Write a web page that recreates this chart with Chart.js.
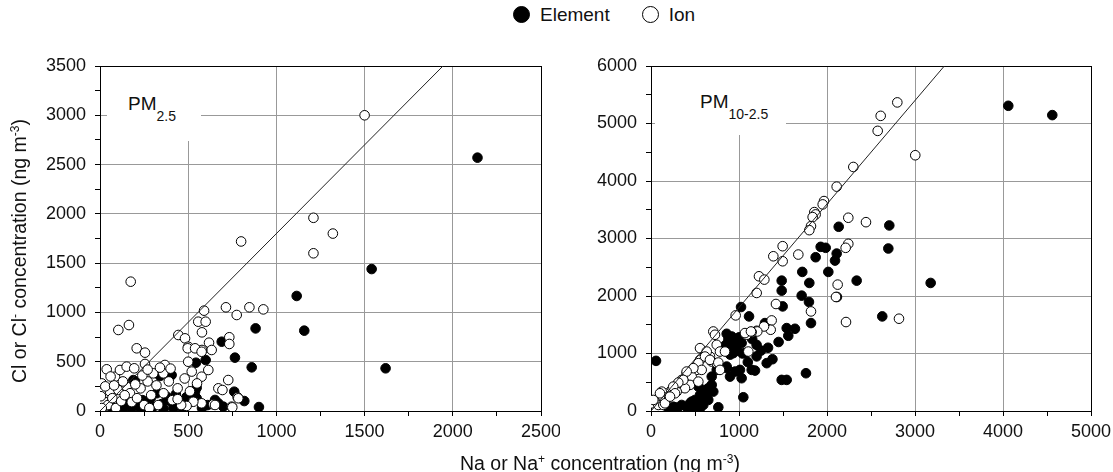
<!DOCTYPE html>
<html>
<head>
<meta charset="utf-8">
<script src="https://cdn.jsdelivr.net/npm/chart.js@4.4.1/dist/chart.umd.min.js"></script>
<style>
  body { margin: 0; width: 1113px; height: 472px; position: relative; overflow: hidden; background: #fff;
         font-family: "Liberation Sans", Arial, sans-serif; color: #111; }
  canvas { position: absolute; top: 0; }
  #cv-fine { left: 0; }
  #cv-coarse { left: 560px; }
  .tag { position: absolute; background: #fff; }
  .tag span { position: absolute; font-size: 19px; line-height: 22px; white-space: nowrap; }
  .tag sub { font-size: 14px; vertical-align: -11px; line-height: 0; }
  #ytitle { position: absolute; left: -141px; top: 240px; width: 320px; text-align: center; line-height: 22px;
            transform: rotate(-90deg); font-size: 19.5px; white-space: nowrap; }
  #xtitle { position: absolute; left: 400px; top: 452px; width: 400px; text-align: center; font-size: 19.5px;
            line-height: 22px; white-space: nowrap; }
  sup { font-size: 12px; vertical-align: 7px; line-height: 0; }
  #legend { position: absolute; top: 4px; left: 513px; font-size: 19px; line-height: 22px; white-space: nowrap; }
  #legend .item { display: inline-block; }
  #legend .item + .item { margin-left: 32px; }
  #legend .dot { display: inline-block; width: 15px; height: 15px; border-radius: 50%; border: 1px solid #000;
                 vertical-align: -2px; margin-right: 10px; }
</style>
</head>
<body>
<div id="legend"></div>
<canvas id="cv-fine" width="560" height="472"></canvas>
<canvas id="cv-coarse" width="553" height="472"></canvas>
<div class="tag" style="left:107px;top:67px;width:94px;height:74px"><span style="left:21px;top:26px">PM<sub>2.5</sub></span></div>
<div class="tag" style="left:655px;top:67px;width:131px;height:68px"><span style="left:45px;top:24px">PM<sub>10-2.5</sub></span></div>
<div id="ytitle">Cl or Cl<sup>-</sup> concentration (ng m<sup>-3</sup>)</div>
<div id="xtitle">Na or Na<sup>+</sup> concentration (ng m<sup>-3</sup>)</div>
<script>
// Cl/Na mass ratio of sea salt, drawn as the reference line
var seawaterRatio = 1.8;

// PM2.5 panel: [Na, Cl] in ng m-3
var fineElement = [
  [2140,2570],[1540,1440],[1115,1167],[1158,815],[1619,433],[882,838],[765,541],[860,443],
  [690,703],[599,517],[544,490],[548,237],[761,196],[818,101],[901,40],[406,365],[340,355],
  [189,314],[198,297],[652,112],[671,78],[699,44],[578,30],[321,180],[378,145],[539,196],
  [548,129],[529,128],[287,128],[264,78],[400,95],[416,27],[38,57],[70,30],[110,50],[150,90],
  [180,30],[220,60],[240,110],[300,40],[350,70],[440,60],[470,20],[490,140],[610,60],[230,20],
  [130,20],[360,20],[430,170]
];
var fineIon = [
  [1500,3000],[1210,1960],[1210,1600],[1320,1800],[800,1720],[174,1312],[104,822],[164,872],
  [208,636],[255,592],[590,1018],[557,906],[599,906],[578,798],[444,771],[482,737],[714,1052],
  [775,974],[847,1052],[926,1031],[618,693],[633,619],[578,619],[500,652],[733,748],[733,680],
  [500,500],[614,416],[576,348],[727,314],[671,230],[694,213],[780,139],[746,44],[642,68],
  [576,78],[529,94],[491,51],[652,61],[750,37],[784,129],[38,423],[85,348],[113,416],[151,450],
  [194,433],[255,477],[302,382],[368,467],[359,382],[19,213],[57,196],[104,213],[151,247],
  [170,180],[497,636],[539,636],[576,601],[20,100],[45,60],[70,130],[90,30],[120,100],[140,160],
  [180,90],[210,130],[230,230],[250,60],[270,300],[290,160],[320,260],[330,60],[360,180],
  [390,300],[410,110],[440,230],[460,60],[480,330],[510,200],[520,400],[550,280],[10,280],
  [30,250],[240,360],[270,420],[400,430],[340,440],[130,300],[80,260],[60,350],[200,270],
  [10,30],[5,150],[440,120],[280,30]
];

// PM10-2.5 panel
var coarseElement = [
  [4060,5308],[4560,5146],[2133,3204],[2708,3227],[2697,2826],[1928,2855],[1985,2838],[2110,2738],
  [2091,2616],[1871,2674],[1719,2419],[2015,2419],[1799,2227],[2337,2267],[3178,2227],[1485,2267],
  [1485,2093],[2113,1983],[1712,2006],[1795,1896],[1496,1819],[1818,1529],[2628,1645],[1542,1442],
  [1636,1430],[1560,1308],[1761,657],[1485,541],[1542,541],[1023,1808],[1114,1645],[1295,1529],
  [860,1343],[917,1296],[57,872],[992,1209],[1030,1181],[935,1006],[1068,1006],[860,745],
  [955,686],[1030,570],[1144,715],[538,424],[594,366],[651,396],[690,454],[557,279],[633,279],
  [708,337],[500,192],[576,192],[651,192],[443,134],[519,105],[594,105],[349,105],[405,65],
  [481,47],[557,47],[273,65],[197,47],[292,17],[765,65],[1049,239],[1315,832],[880,1250],
  [900,1200],[950,1150],[1000,1280],[920,1100],[980,1050],[1040,1000],[850,1150],[830,1050],
  [900,980],[1200,1150],[1150,1250],[1182,703],[1011,715],[898,598],[860,773],[747,715],
  [690,598],[614,337],[576,250],[462,163],[253,75],[1250,1050],[1330,1100],[1380,900],
  [1450,1200],[1100,850],[1200,950]
];
var coarseIon = [
  [2799,5367],[2610,5133],[2576,4872],[3003,4448],[2299,4244],[2110,3902],[1966,3651],[1951,3593],
  [1856,3459],[1871,3419],[1837,3372],[1818,3215],[1799,3145],[2242,3361],[2443,3284],[2242,2908],
  [2212,2838],[1674,2721],[1496,2866],[1496,2604],[1390,2691],[2121,2198],[2102,1983],[1818,1732],
  [2216,1547],[2818,1605],[1227,2343],[1288,2285],[1201,2053],[1420,1861],[962,1663],[1371,1575],
  [1360,1413],[1095,1343],[1151,1366],[1201,1395],[1284,1470],[1208,1383],[1144,1372],[1087,1326],
  [708,1383],[727,1326],[1068,1355],[1136,1383],[1106,1034],[747,1151],[784,1034],[841,1034],
  [614,977],[670,947],[557,890],[690,860],[747,832],[519,715],[405,657],[462,599],[349,541],
  [443,454],[538,511],[386,396],[292,454],[292,337],[235,366],[159,308],[122,337],[197,250],
  [102,221],[45,163],[8,134],[83,105],[140,105],[557,1093],[633,1034],[614,947],[670,890],
  [765,843],[784,715],[538,832],[576,715],[481,745],[405,686],[367,541],[310,494],[253,424],
  [273,308],[102,308],[26,192],[159,134],[216,250]
];

// axis setup: [max, minor tick step, labelled/gridded step]
var fineX = [2500, 250, 500];
var fineY = [3500, 250, 500];
var coarseX = [5000, 500, 1000];
var coarseY = [6000, 500, 1000];

var seriesNames = ['Element', 'Ion'];

function pts(rows) {
  return rows.map(function (r) { return { x: r[0], y: r[1] }; });
}

function axis(spec, isX, fitSize) {
  var max = spec[0], step = spec[1], major = spec[2];
  return {
    type: 'linear', min: 0, max: max,
    border: { display: true, color: '#000', width: 1 },
    grid: {
      tickLength: 5,
      tickColor: '#000',
      color: function (c) {
        var v = c.tick ? c.tick.value : 0;
        if (v === max) return '#000';
        if (v === 0) return 'rgba(0,0,0,0)';
        return v % major === 0 ? '#999' : 'rgba(0,0,0,0)';
      }
    },
    ticks: {
      stepSize: step, autoSkip: false, maxRotation: 0,
      padding: isX ? 5 : 9,
      color: '#111',
      font: { family: '"Liberation Sans", Arial, sans-serif', size: 18 },
      callback: function (v) { return v % major === 0 ? String(v) : ''; }
    },
    afterFit: function (scale) {
      // fixed axis boxes so both panels line up with the reference
      if (isX) { scale.height = fitSize; scale.paddingLeft = 0; scale.paddingRight = 0; }
      else { scale.width = fitSize; scale.paddingTop = 0; scale.paddingBottom = 0; }
    }
  };
}

function makePanel(id, element, ion, xs, ys, yWidth, padRight) {
  var top = ys[0];
  return new Chart(document.getElementById(id), {
    type: 'scatter',
    data: {
      datasets: [
        { type: 'line', label: 'ratio', data: [{ x: 0, y: 0 }, { x: top / seawaterRatio, y: top }],
          borderColor: '#222', borderWidth: 1, pointRadius: 0, fill: false, order: 0 },
        { label: seriesNames[1], data: pts(ion), pointRadius: 4.8, pointBackgroundColor: '#fff',
          pointBorderColor: '#000', pointBorderWidth: 1, order: 1 },
        { label: seriesNames[0], data: pts(element), pointRadius: 4.8, pointBackgroundColor: '#000',
          pointBorderColor: '#000', pointBorderWidth: 1, order: 2 }
      ]
    },
    options: {
      responsive: false, animation: false, events: [],
      layout: { padding: { top: 66, right: padRight, left: 0, bottom: 0 } },
      plugins: { legend: { display: false }, tooltip: { enabled: false } },
      scales: { x: axis(xs, true, 61), y: axis(ys, false, yWidth) }
    }
  });
}

var fineChart = makePanel('cv-fine', fineElement, fineIon, fineX, fineY, 100, 19);
makePanel('cv-coarse', coarseElement, coarseIon, coarseX, coarseY, 91, 22);

/* legend built from the chart's own datasets */
var legend = document.getElementById('legend');
legend.innerHTML = seriesNames.map(function (name) {
  var ds = fineChart.data.datasets.filter(function (d) { return d.label === name; })[0];
  return '<span class="item"><span class="dot" style="background:' + ds.pointBackgroundColor + '"></span>' + name + '</span>';
}).join('');
</script>
</body>
</html>
